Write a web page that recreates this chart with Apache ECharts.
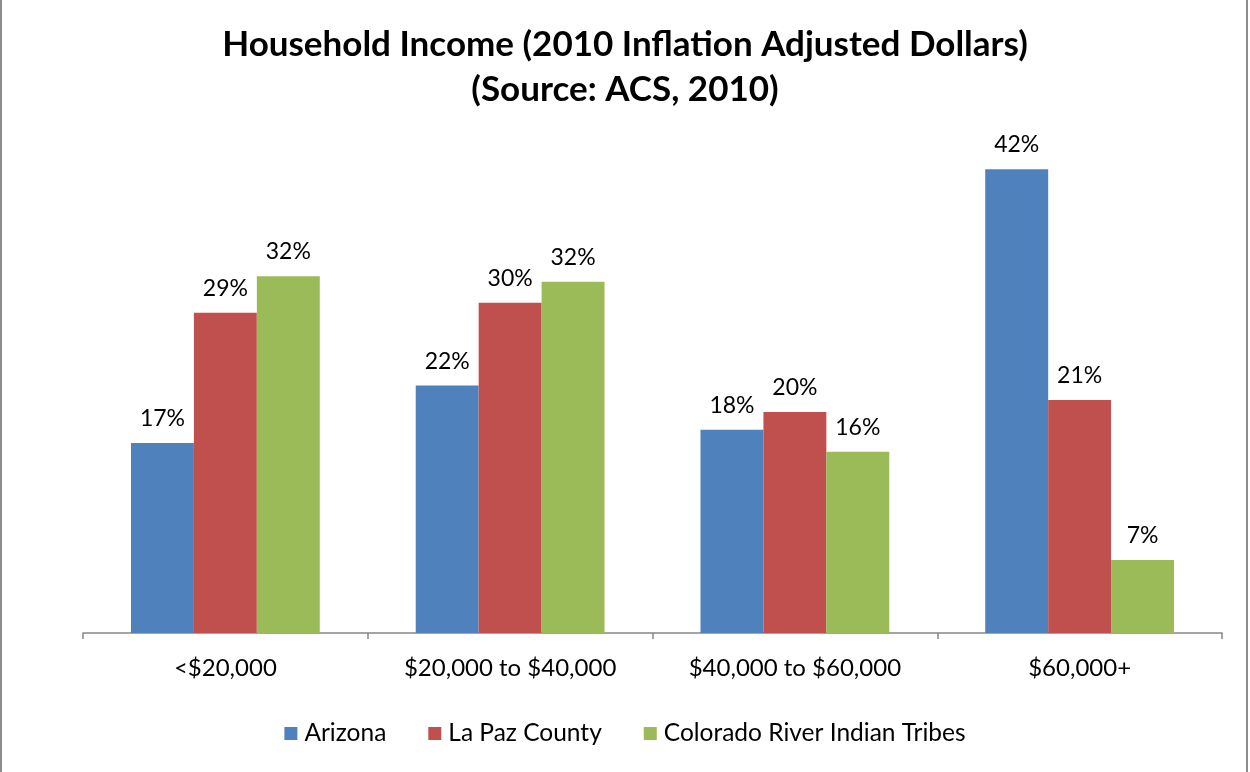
<!DOCTYPE html>
<html>
<head>
<meta charset="utf-8">
<script src="https://cdn.jsdelivr.net/npm/echarts@6/dist/echarts.min.js"></script>
<style>
html,body{margin:0;padding:0;background:#fff;}
#wrap{position:relative;width:1250px;height:772px;}
#chart{position:absolute;left:0;top:0;width:1250px;height:772px;}
#bl{position:absolute;left:0;top:0;width:2px;height:772px;background:#8c8c8c;}
#br{position:absolute;left:1246px;top:0;width:2px;height:772px;background:#8c8c8c;}
</style>
</head>
<body>
<div id="wrap"><div id="chart"></div><div id="bl"></div><div id="br"></div></div>
<script>
const titleLines = ['Household Income (2010 Inflation Adjusted Dollars)', '(Source: ACS, 2010)'];
const categories = ['<$20,000', '$20,000 to $40,000', '$40,000 to $60,000', '$60,000+'];
const seriesNames = ['Arizona', 'La Paz County', 'Colorado River Indian Tribes'];
const arizona = [17.2, 22.4, 18.4, 42.0];
const laPaz = [29.0, 29.9, 20.0, 21.1];
const crit = [32.3, 31.8, 16.4, 6.6];
const colors = ['#4F81BD', '#C0504D', '#9BBB59'];

const chart = echarts.init(document.getElementById('chart'));
const font = 'Lato, "Open Sans", sans-serif';
const mk = (name, data, color) => ({
  name, type: 'bar', data,
  itemStyle: { color },
  barGap: '0%', barCategoryGap: '33.7%',
  label: {
    show: true, position: 'top', distance: 13,
    formatter: p => Math.round(p.value) + '%',
    fontFamily: font, fontSize: 23, color: '#000'
  }
});
chart.setOption({
  animation: false,
  textStyle: { fontFamily: font },
  title: {
    text: titleLines.join('\n'),
    left: 'center', top: 17,
    textStyle: { fontFamily: font, fontSize: 35, fontWeight: 'bold', color: '#000', lineHeight: 45 }
  },
  legend: {
    data: seriesNames, bottom: 21, left: 'center',
    itemWidth: 13, itemHeight: 13, itemGap: 42,
    icon: 'rect',
    textStyle: { fontFamily: font, fontSize: 24.5, color: '#000', padding: [0,0,0,2] }
  },
  grid: { left: 83, right: 28, top: 136, bottom: 139 },
  xAxis: {
    type: 'category', data: categories,
    axisLine: { lineStyle: { color: '#868686', width: 1.5 } },
    axisTick: { show: true, length: 6, lineStyle: { color: '#868686', width: 1.5 } },
    axisLabel: { fontFamily: font, fontSize: 24, color: '#000', margin: 23 }
  },
  yAxis: { type: 'value', min: 0, max: 45, show: false, splitLine: { show: false } },
  series: [mk(seriesNames[0], arizona, colors[0]), mk(seriesNames[1], laPaz, colors[1]), mk(seriesNames[2], crit, colors[2])]
});
</script>
</body>
</html>
